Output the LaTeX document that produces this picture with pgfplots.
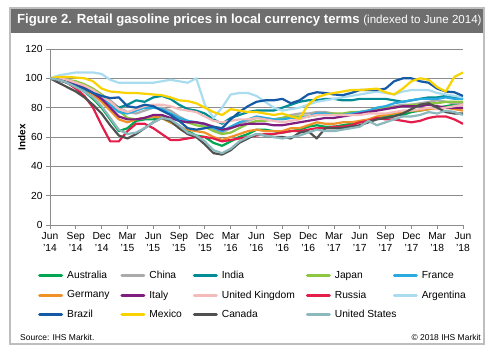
\documentclass[border=0pt]{standalone}
\usepackage{fontspec}
\setmainfont{Liberation Sans}
\usepackage{pgfplots}
\usepackage{pgfplotstable}
\pgfplotsset{compat=1.18}

\definecolor{cAus}{RGB}{0,166,81}
\definecolor{cChi}{RGB}{170,170,170}
\definecolor{cInd}{RGB}{0,140,149}
\definecolor{cJap}{RGB}{141,198,63}
\definecolor{cFra}{RGB}{41,171,226}
\definecolor{cGer}{RGB}{240,146,40}
\definecolor{cIta}{RGB}{128,30,128}
\definecolor{cUK}{RGB}{244,187,187}
\definecolor{cRus}{RGB}{227,30,75}
\definecolor{cArg}{RGB}{170,220,240}
\definecolor{cBra}{RGB}{20,90,165}
\definecolor{cMex}{RGB}{250,210,0}
\definecolor{cCan}{RGB}{80,80,80}
\definecolor{cUS}{RGB}{140,185,190}
\definecolor{titlebar}{RGB}{110,110,110}
\definecolor{framecol}{RGB}{190,190,190}
\definecolor{gridgray}{RGB}{140,140,140}

\pgfplotstableread{
m Aus Chi Ind Jap Fra Ger Ita UK Rus Arg Bra Mex Can US
0 100 100 100 100 100 100 100 100 100 100 100 100 100 100
1 99 100 99 100 99 99 99 100 99 102 99 101 97 99
2 97 99 97 99 98 97 98 99 97 103 97 101 94 97
3 94 97 94 98 96 95 96 97 93 104 95 100.5 91 94
4 91 95 92 96 94 93 94 95 88 104 93 100 87 91
5 86 92 89 93 91 89 90 92 80 104 90 98 82 87
6 80 89 86 89 87 84 86 88 68 103 88 93 76 81
7 72 85 83 84 82 78 80 84 57 99 86.5 91 68 73
8 64 80 80 78 77 72 74 79 57 97 87 90.5 61 65
9 66 77 82 73 76 70 72 77 64 97 81 90 59 62
10 71 76 85 72 78 72 72 79 69 97 80 90 62 63
11 72 78 84 73 80 73 73 81 69 97 82 89.5 66 66
12 72 80 87 74 80 74 75 82 66 97 81 89 70 70
13 73 80 88 74 79 73 75 82 62 98 78 88.5 73 73
14 70 78 86 73 76 70 73 81 58 99 75 87 71 72
15 67 74 82 72 73 67 71 79 58 98 71 85 66 68
16 64 71 79 70 71 65 70 78 59 97 66 84.5 62 63
17 61 70 78 68 70 64 70 77 60 100 65 83 60 61
18 60 68 76 67 69 63 69 74 60 82 66 80 55 57
19 56 65 72 64 66 60 67 71 59 73 67 77 49 51
20 54 63 69 62 64 58 65 70 57 80 66 75 48 49
21 57 66 73 63 67 60 66 71 58 89 72 79 51 52
22 60 69 75 66 70 62 68 72 59 90 77 78 56 57
23 62 71 77 69 72 64 69 72 60 90 81 77 59 60
24 65 73 78 71 74 65 69 73 61 88 84 77 62 62
25 65 73 78 71 73 64 69 72 62 84 85 76 61 61
26 64 72 78 72 72 64 68 71 62 80 85 75 60 60
27 63 73 80 73 72 64 68 70 63 78 86 76 60 59
28 64 75 82 74 73 66 69 71 64 79 83 74 59 60
29 65 76 84 74 73 66 70 72 64 80 85 72.5 63 61
30 67 76 85 74 74 68 71 74 65 82 89 82 64 63
31 68 77 85 75 76 70 72 75 66 84 90.5 87 59 65
32 67 77 86 76 76 69 73 75 66 85 90 89 66 64
33 67 76 86 76 75 69 73 75 67 86 89 90 66 64
34 68 75 85 76 75 70 74 75 67 87 88.5 91 66 65
35 69 76 85 77 76 70 75 75 68 88 90 92 67 66
36 70 77 86 77 77 71 76 75 70 89 92 92 68 67
37 71 78 86 78 78 72 77 76 71 90 92 92.5 70 71
38 73 79 86 79 80 74 78 76 73 91 92 93 72 68
39 74 80 86 80 81 75 79 76 72 90 93 90.5 73 70
40 75 81 85 80 83 76 80 77 72 89 98 89 74 72
41 75 82 84 81 84 77 81 78 71 91 100 93 76 74
42 77 82 85 82 85 78 81 78 70 92 100 98 79 74
43 78 83 86 82 86 78 81 79 71 92 98 100 82 75
44 79 84 87 83 86 79 82 80 73 92 97 99 83 77
45 80 85 87 83 86 79 81 79 74 90 93 94 80 76
46 81 84 88 84 87 80 80 80 74 89 91 91 77 78
47 82 83 87 84 86 79 80 81 72 88 90.5 101 76 77
48 83 83 86 84 86 78 80 82 69 87 88 104 76 75
}\data

\begin{document}
\begin{tikzpicture}
\path[use as bounding box] (0bp,0bp) rectangle (493bp,350bp);
\fill[white] (0bp,0bp) rectangle (493bp,350bp);
\fill[titlebar] (10bp,317bp) rectangle (484bp,342bp);
\draw[framecol, line width=1.2bp] (10bp,6bp) rectangle (484bp,342bp);
\node[anchor=west, text=white, inner sep=0pt] at (17bp,329.5bp)
  {\fontsize{13.2}{15}\selectfont\bfseries Figure 2. Retail gasoline prices in local currency terms \fontsize{11.6}{13}\selectfont\mdseries(indexed to June 2014)};

\begin{axis}[
  at={(50bp,125bp)}, anchor=south west, scale only axis,
  width=413bp, height=176bp,
  xmin=0, xmax=48, ymin=0, ymax=120,
  axis lines*=left,
  axis line style={draw=gridgray, line width=0.8bp},
  xtick={0,3,...,48},
  xticklabels={Jun\\'14,Sep\\'14,Dec\\'14,Mar\\'15,Jun\\'15,Sep\\'15,Dec\\'15,Mar\\'16,Jun\\'16,Sep\\'16,Dec\\'16,Mar\\'17,Jun\\'17,Sep\\'17,Dec\\'17,Mar\\'18,Jun\\'18},
  ytick={0,20,...,120},
  ymajorgrids,
  grid style={draw=gridgray, line width=0.8bp},
  tick align=outside, major tick length=4bp,
  tick style={draw=gridgray, line width=0.8bp},
  xticklabel style={align=center, font=\fontsize{10.3}{12.3}\selectfont, text=black},
  yticklabel style={font=\fontsize{10.3}{12.3}\selectfont, text=black},
  /pgf/number format/assume math mode=true,
  ylabel={Index},
  ylabel style={font=\fontsize{10}{12}\selectfont\bfseries, at={(axis description cs:-0.068,0.5)}, anchor=center},
  every axis plot/.append style={line width=2.2bp, line join=round, mark=none},
  legend columns=5,
  legend cell align=left,
  legend style={at={(axis description cs:-0.029,-0.25)}, anchor=north west,
    draw=none, fill=none, inner sep=0pt,
    font=\fontsize{10.3}{12}\selectfont,
    row sep=6.5bp,
    /tikz/every odd column/.append style={column sep=2bp},
    /tikz/every even column/.append style={column sep=9bp}},
  legend image code/.code={\draw[#1, line width=3bp, line cap=round] (0bp,0bp) -- (22bp,0bp);},
]
\addplot[cAus] table[x=m,y=Aus]{\data};
\addplot[cChi] table[x=m,y=Chi]{\data};
\addplot[cInd] table[x=m,y=Ind]{\data};
\addplot[cJap] table[x=m,y=Jap]{\data};
\addplot[cFra] table[x=m,y=Fra]{\data};
\addplot[cGer] table[x=m,y=Ger]{\data};
\addplot[cIta] table[x=m,y=Ita]{\data};
\addplot[cUK] table[x=m,y=UK]{\data};
\addplot[cRus] table[x=m,y=Rus]{\data};
\addplot[cArg] table[x=m,y=Arg]{\data};
\addplot[cBra] table[x=m,y=Bra]{\data};
\addplot[cMex] table[x=m,y=Mex]{\data};
\addplot[cCan] table[x=m,y=Can]{\data};
\addplot[cUS] table[x=m,y=US]{\data};
\legend{Australia,China,India,Japan,France,Germany,Italy,United Kingdom,Russia,Argentina,Brazil,Mexico,Canada,\makebox[47bp][l]{United States}}
\end{axis}

\node[anchor=west, inner sep=0pt, font=\fontsize{8.5}{10}\selectfont] at (20bp,13bp) {Source: IHS Markit.};
\node[anchor=east, inner sep=0pt, font=\fontsize{8.5}{10}\selectfont] at (481bp,13bp) {© 2018 IHS Markit};
\end{tikzpicture}
\end{document}
